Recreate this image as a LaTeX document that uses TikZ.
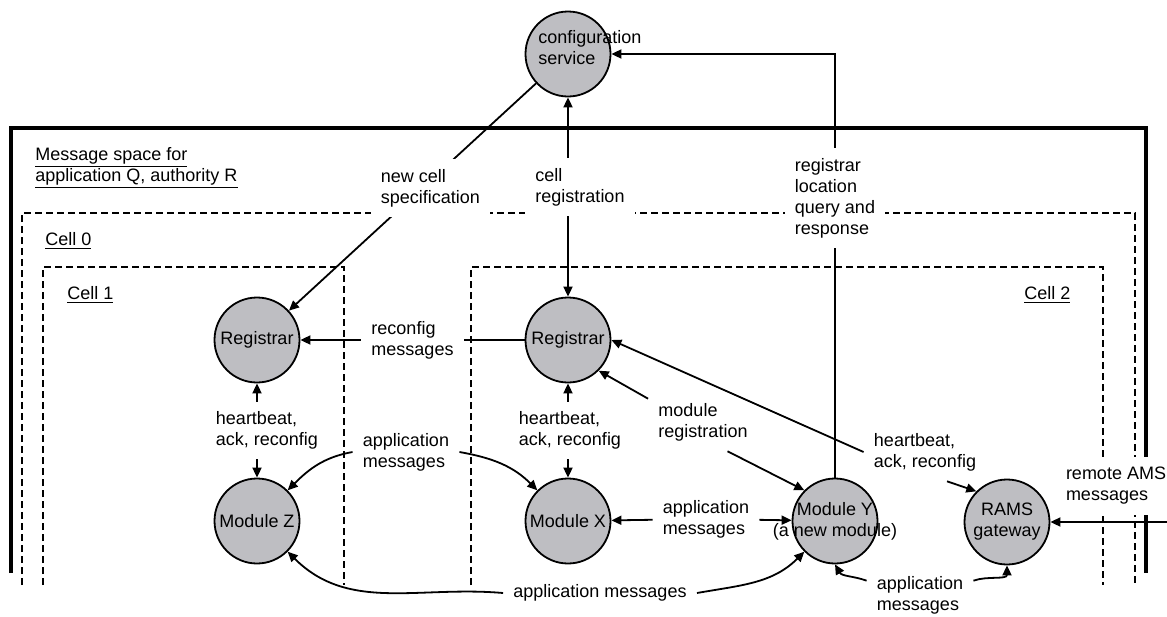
\documentclass[tikz,border=0pt]{standalone}
\usepackage{fontspec}
\setmainfont{Liberation Sans}
\usetikzlibrary{arrows.meta}
\definecolor{nodegray}{RGB}{190,190,194}
\begin{document}
\begin{tikzpicture}[x=0.5pt,y=0.5pt,
    font=\fontsize{9pt}{10.5pt}\selectfont,
    unit/.style={circle,draw,fill=nodegray,line width=0.9pt,minimum size=42.5pt,inner sep=0pt,align=center},
    lbl/.style={align=left,inner sep=5pt},
    cover/.style={lbl,fill=white},
    cellbox/.style={line width=1pt,dash pattern=on 3.5pt off 2pt},
    arr/.style={-{Triangle[length=5pt,width=4.5pt]},line width=0.9pt},
    arrs/.style={{Triangle[length=5pt,width=4.5pt]}-{Triangle[length=5pt,width=4.5pt]},line width=0.9pt}]
          \useasboundingbox (0,0) rectangle (1167,-616);

          \draw[line width=1.8pt] (11,-573) -- (11,-128) -- (1146,-128) -- (1146,-573);
          \draw[cellbox] (22,-585) -- (22,-213) -- (1135,-213) -- (1135,-585);
          \draw[cellbox] (43,-585) -- (43,-267) -- (344,-267) -- (344,-585);
          \draw[cellbox] (471,-585) -- (471,-267) -- (1103,-267) -- (1103,-585);

          \node[anchor=west,align=left,inner sep=0pt] (space) at (35,-168) {\underline{Message space for}\\\underline{application Q, authority R}};
          \node[anchor=west,inner sep=0pt] (cell0) at (45,-241) {\underline{Cell 0}};
          \node[anchor=west,inner sep=0pt] (cell1) at (67,-295) {\underline{Cell 1}};
          \node[anchor=west,inner sep=0pt] (cell2) at (1024,-295) {\underline{Cell 2}};

          \node[unit] (cfg) at (568,-54) {};
          \node[anchor=west,align=left,inner sep=0pt] (cfgtext) at (538,-48) {configuration\\service};
          \node[unit] (reg1) at (257,-340) {Registrar};
          \node[unit] (regX) at (568,-340) {Registrar};
          \node[unit] (modZ) at (257,-521) {Module Z};
          \node[unit] (modX) at (568,-521) {Module X};
          \node[unit] (modY) at (835,-521) {};
          \node[align=center,inner sep=0pt] (modYtext) at (modY) {Module Y\\(a new module)};
          \node[unit] (rams) at (1007,-522) {RAMS\\gateway};

          \node[lbl] (app0) at (406,-452) {application\\messages};
          \node[lbl] (app1) at (706,-519) {application\\messages};
          \node[lbl] (app2) at (600,-593) {application messages};
          \node[lbl] (app3) at (920,-595) {application\\messages};
          \node[lbl] (mreg) at (703,-422) {module\\registration};
          \node[lbl] (hbR) at (925,-452) {heartbeat,\\ack, reconfig};
          \node[cover] (remote) at (1116,-486) {remote AMS\\messages};
          \coordinate (edge) at (1167,-522);

          \draw[arr] (cfg) -- (reg1) node[cover,pos=0.46,xshift=4pt] {new cell\\specification};
          \draw[arrs] (regX) -- (cfg) node[cover,pos=0.55,xshift=6pt] {cell\\registration};
          \draw[arr] (modY) |- (cfg) node[cover,pos=0.33] {registrar\\location\\query and\\response};
          \draw[arr] (regX) -- (reg1) node[cover,midway] {reconfig\\messages};
          \draw[arrs] (reg1) -- (modZ) node[cover,midway,xshift=5pt] {heartbeat,\\ack, reconfig};
          \draw[arrs] (regX) -- (modX) node[cover,midway,xshift=1pt] {heartbeat,\\ack, reconfig};

          \draw[arr] (app0.west) to[out=190,in=45] (modZ);
          \draw[arr] (app0.east) to[out=-10,in=135] (modX);
          \draw[arr] (app1) -- (modX);
          \draw[arr] (app1) -- (modY);
          \draw[arr] (app2.west) to[out=175,in=-45] (modZ);
          \draw[arr] (app2.east) to[out=10,in=225] (modY);
          \draw[arr] (app3.165) to[out=160,in=-60] (modY.south);
          \draw[arr] (app3.15) to[out=20,in=-90] (rams.south);
          \draw[arr] (mreg.157) -- (regX.-45);
          \draw[arr] (mreg.-50) -- (modY.135);
          \draw[arr] (hbR.west) -- (regX.east);
          \draw[arr] ([xshift=11pt]hbR.south) -- (rams.135);
          \draw[arr] (edge) -- (rams);
        \end{tikzpicture}
\end{document}
